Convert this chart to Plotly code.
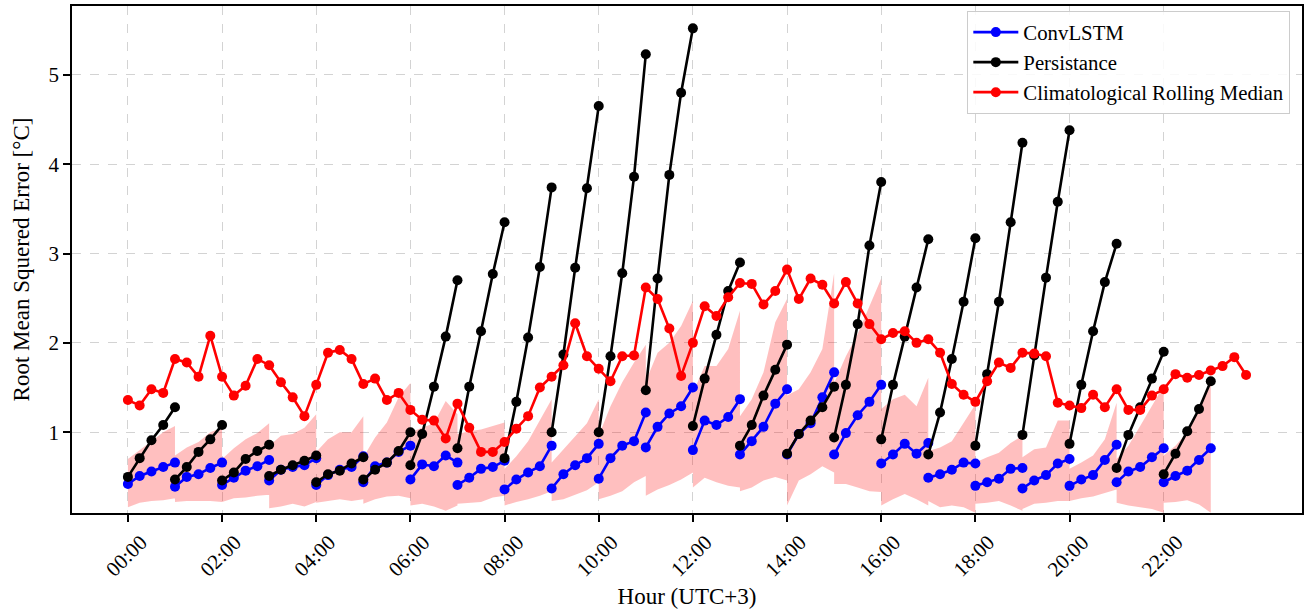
import plotly.graph_objects as go

# ---------------- data ----------------
step_h = 0.25                       # 15-minute resolution
segment_starts = list(range(23))    # each forecast run starts on the hour, 1 h horizon

convlstm = [
    [0.42, 0.51, 0.56, 0.61, 0.66], [0.39, 0.50, 0.53, 0.60, 0.66],
    [0.41, 0.49, 0.57, 0.62, 0.69], [0.46, 0.58, 0.61, 0.63, 0.71],
    [0.41, 0.52, 0.58, 0.61, 0.73], [0.44, 0.62, 0.66, 0.78, 0.85],
    [0.47, 0.64, 0.62, 0.74, 0.66], [0.41, 0.49, 0.59, 0.61, 0.68],
    [0.36, 0.47, 0.55, 0.62, 0.85], [0.37, 0.53, 0.63, 0.71, 0.87],
    [0.48, 0.71, 0.85, 0.90, 1.22], [0.83, 1.06, 1.21, 1.29, 1.50],
    [0.80, 1.13, 1.08, 1.17, 1.37], [0.75, 0.90, 1.06, 1.32, 1.48],
    [0.75, 0.98, 1.10, 1.39, 1.67], [0.75, 0.99, 1.19, 1.34, 1.53],
    [0.65, 0.75, 0.87, 0.76, 0.88], [0.49, 0.53, 0.58, 0.66, 0.65],
    [0.40, 0.44, 0.48, 0.59, 0.60], [0.37, 0.46, 0.52, 0.65, 0.70],
    [0.40, 0.47, 0.52, 0.69, 0.86], [0.44, 0.56, 0.61, 0.72, 0.82],
    [0.44, 0.51, 0.57, 0.69, 0.82],
]

persistance = [
    [0.50, 0.71, 0.91, 1.08, 1.28], [0.47, 0.61, 0.78, 0.92, 1.08],
    [0.46, 0.55, 0.70, 0.79, 0.86], [0.51, 0.58, 0.63, 0.68, 0.74],
    [0.44, 0.53, 0.57, 0.65, 0.72], [0.47, 0.58, 0.66, 0.79, 1.00],
    [0.63, 0.98, 1.51, 2.07, 2.70], [0.82, 1.51, 2.13, 2.77, 3.35],
    [0.71, 1.34, 2.06, 2.85, 3.74], [1.00, 1.87, 2.84, 3.73, 4.65],
    [1.00, 1.85, 2.78, 3.86, 5.23], [1.47, 2.72, 3.88, 4.80, 5.52],
    [1.07, 1.60, 2.09, 2.58, 2.90], [0.85, 1.08, 1.41, 1.70, 1.98],
    [0.76, 0.98, 1.13, 1.28, 1.51], [0.94, 1.53, 2.21, 3.09, 3.80],
    [0.92, 1.53, 2.07, 2.62, 3.16], [0.75, 1.22, 1.82, 2.46, 3.17],
    [0.85, 1.65, 2.46, 3.35, 4.24], [0.97, 1.86, 2.73, 3.58, 4.38],
    [0.87, 1.53, 2.13, 2.68, 3.11], [0.60, 0.97, 1.28, 1.60, 1.90],
    [0.53, 0.76, 1.01, 1.26, 1.57],
]

band_upper = [
    [0.70, 0.80, 0.90, 1.00, 1.07], [0.74, 0.83, 0.89, 1.00, 1.05],
    [0.70, 0.82, 0.92, 0.99, 1.10], [0.85, 0.96, 0.98, 1.05, 1.20],
    [0.78, 0.92, 1.00, 1.00, 1.18], [0.72, 0.94, 1.11, 1.39, 1.55],
    [1.00, 1.05, 1.10, 1.35, 1.20], [0.98, 1.01, 1.03, 1.07, 1.11],
    [0.59, 0.73, 0.90, 1.13, 1.37], [0.66, 0.81, 0.96, 1.10, 1.37],
    [0.96, 1.29, 1.56, 1.78, 1.98], [1.57, 1.89, 2.00, 2.19, 2.47],
    [1.44, 1.74, 1.74, 1.93, 2.36], [1.18, 1.37, 1.67, 2.23, 2.49],
    [1.41, 1.48, 1.67, 1.93, 2.78], [1.55, 1.85, 2.10, 2.40, 2.72],
    [1.26, 1.37, 1.42, 1.29, 1.61], [0.79, 0.83, 0.90, 1.11, 1.31],
    [0.66, 0.72, 0.77, 0.88, 0.96], [0.72, 0.81, 0.83, 1.13, 1.13],
    [0.59, 0.66, 0.74, 0.92, 1.33], [0.70, 0.85, 1.07, 1.29, 1.52],
    [0.74, 0.85, 1.00, 1.26, 1.54],
]

band_lower = [
    [0.16, 0.21, 0.23, 0.24, 0.26], [0.22, 0.23, 0.23, 0.23, 0.22],
    [0.22, 0.26, 0.27, 0.29, 0.30], [0.15, 0.17, 0.20, 0.17, 0.22],
    [0.21, 0.23, 0.25, 0.23, 0.25], [0.20, 0.25, 0.28, 0.29, 0.26],
    [0.18, 0.20, 0.17, 0.12, 0.18], [0.20, 0.21, 0.22, 0.27, 0.29],
    [0.18, 0.22, 0.25, 0.29, 0.34], [0.23, 0.25, 0.30, 0.35, 0.44],
    [0.25, 0.29, 0.34, 0.44, 0.51], [0.29, 0.36, 0.41, 0.47, 0.55],
    [0.38, 0.49, 0.44, 0.40, 0.38], [0.34, 0.38, 0.46, 0.50, 0.46],
    [0.18, 0.46, 0.53, 0.62, 0.55], [0.42, 0.42, 0.38, 0.34, 0.33],
    [0.18, 0.25, 0.31, 0.25, 0.18], [0.23, 0.16, 0.18, 0.16, 0.10],
    [0.20, 0.21, 0.23, 0.18, 0.12], [0.14, 0.20, 0.21, 0.23, 0.23],
    [0.23, 0.26, 0.28, 0.32, 0.36], [0.21, 0.18, 0.16, 0.14, 0.10],
    [0.21, 0.22, 0.24, 0.19, 0.10],
]

climatology = [
    1.36, 1.30, 1.48, 1.44, 1.82, 1.78, 1.62, 2.08,
    1.62, 1.41, 1.52, 1.82, 1.75, 1.56, 1.39, 1.18,
    1.53, 1.89, 1.92, 1.82, 1.54, 1.60, 1.36, 1.44,
    1.25, 1.14, 1.13, 0.93, 1.32, 1.05, 0.78, 0.78,
    0.89, 1.04, 1.18, 1.50, 1.62, 1.75, 2.22, 1.85,
    1.71, 1.57, 1.85, 1.86, 2.62, 2.49, 2.16, 1.63,
    2.00, 2.41, 2.30, 2.51, 2.67, 2.66, 2.43, 2.58,
    2.82, 2.49, 2.72, 2.65, 2.44, 2.68, 2.44, 2.21,
    2.04, 2.11, 2.13, 2.00, 2.04, 1.89, 1.54, 1.42,
    1.34, 1.57, 1.78, 1.72, 1.89, 1.88, 1.85, 1.33,
    1.30, 1.27, 1.42, 1.28, 1.48, 1.25, 1.25, 1.41,
    1.48, 1.65, 1.61, 1.64, 1.69, 1.74, 1.84, 1.64,
]

tick_hours = list(range(0, 24, 2))
tick_labels = [f"{h:02d}:00" for h in tick_hours]

# ---------------- build traces ----------------
def seg_x(start, n):
    return [start + k * step_h for k in range(n)]

def gapped(segs):
    xs, ys = [], []
    for s, vals in zip(segment_starts, segs):
        xs += seg_x(s, len(vals)) + [None]
        ys += list(vals) + [None]
    return xs, ys

band_x, band_y = [], []
for s, up, lo in zip(segment_starts, band_upper, band_lower):
    xx = seg_x(s, len(up))
    band_x += xx + xx[::-1] + [None]
    band_y += list(up) + list(lo)[::-1] + [None]

FONT = "Liberation Serif, Times New Roman, serif"
LW = 2.6
MS = 10

fig = go.Figure()
fig.add_trace(go.Scatter(
    x=band_x, y=band_y, mode="lines", fill="toself",
    fillcolor="rgba(255,0,0,0.25)", line=dict(width=0, color="rgba(255,0,0,0)"),
    hoverinfo="skip", showlegend=False, connectgaps=False))

bx, by = gapped(convlstm)
fig.add_trace(go.Scatter(x=bx, y=by, mode="lines+markers", name="ConvLSTM",
                         line=dict(color="#0000ff", width=LW),
                         marker=dict(color="#0000ff", size=MS), connectgaps=False))
kx, ky = gapped(persistance)
fig.add_trace(go.Scatter(x=kx, y=ky, mode="lines+markers", name="Persistance",
                         line=dict(color="#000000", width=LW),
                         marker=dict(color="#000000", size=MS), connectgaps=False))
rx = [k * step_h for k in range(len(climatology))]
fig.add_trace(go.Scatter(x=rx, y=climatology, mode="lines+markers",
                         name="Climatological Rolling Median",
                         line=dict(color="#ff0000", width=LW),
                         marker=dict(color="#ff0000", size=MS)))

fig.update_layout(
    width=1307, height=613,
    margin=dict(l=72, r=5, t=6, b=100),
    paper_bgcolor="white", plot_bgcolor="white",
    font=dict(family=FONT, size=19, color="black"),
    legend=dict(x=0.9905, y=0.99, xanchor="right", yanchor="top",
                bgcolor="rgba(255,255,255,0.85)", bordercolor="#cccccc",
                borderwidth=1, font=dict(family=FONT, size=20.8),
                tracegroupgap=0, itemwidth=45),
    showlegend=True,
)
fig.update_xaxes(
    range=[-1.1875, 24.9375], tickvals=tick_hours, ticktext=tick_labels,
    tickangle=-45, ticklabelshift=13, automargin=False,
    ticks="outside", ticklen=7, tickwidth=1.5, tickcolor="black",
    showline=True, linecolor="black", linewidth=1.5, mirror=True,
    showgrid=True, gridcolor="#d3d3d3", griddash="dash", gridwidth=1,
    zeroline=False, title=dict(text="Hour (UTC+3)", font=dict(size=23), standoff=8),
    tickfont=dict(size=21),
)
fig.update_yaxes(
    range=[0.096, 5.77], tickvals=[1, 2, 3, 4, 5], automargin=False,
    ticks="outside", ticklen=7, tickwidth=1.5, tickcolor="black",
    showline=True, linecolor="black", linewidth=1.5, mirror=True,
    showgrid=True, gridcolor="#d3d3d3", griddash="dash", gridwidth=1,
    zeroline=False, title=dict(text="Root Mean Squered Error [°C]", font=dict(size=23), standoff=12),
    tickfont=dict(size=21),
)

fig.write_html("out.html", config={"displayModeBar": False},
               post_script="document.body.style.margin='0';document.body.style.overflow='hidden';")
